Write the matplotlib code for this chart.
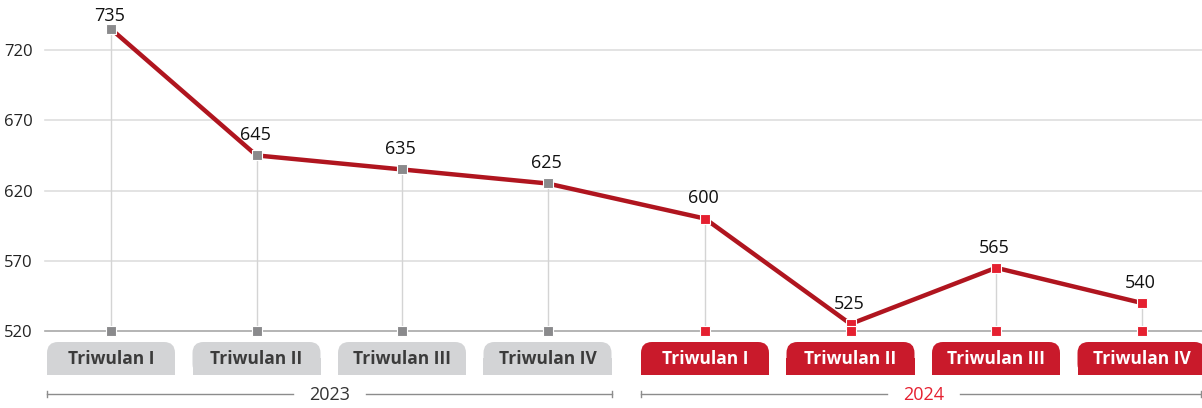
import matplotlib.pyplot as plt
from matplotlib.patches import FancyBboxPatch, Rectangle

# -------------------------
# DATA
# -------------------------
kuartal = ["Triwulan I", "Triwulan II", "Triwulan III", "Triwulan IV",
           "Triwulan I", "Triwulan II", "Triwulan III", "Triwulan IV"]
tahun = ["2023", "2023", "2023", "2023", "2024", "2024", "2024", "2024"]
nilai = [735, 645, 635, 625, 600, 525, 565, 540]
y_ticks = [520, 570, 620, 670, 720]

# -------------------------
# STYLE
# -------------------------
plt.rcParams['font.family'] = ['Open Sans', 'DejaVu Sans']
warna_garis = '#b0151f'
warna_abu = '#8a8a8c'
warna_merah = '#e52030'
box_abu = '#d3d4d6'
box_merah = '#c91a2b'
px_unit = 145.5          # pixel per kategori
jeda = 12 / px_unit      # jarak tambahan antar tahun

fig = plt.figure(figsize=(12.02, 4.08), dpi=100)
ax = fig.add_axes([45 / 1202, 77 / 408, 1157 / 1202, 331 / 408])
lab = fig.add_axes([45 / 1202, 0, 1157 / 1202, 77 / 408], sharex=ax)

daftar_tahun = sorted(set(tahun))
x = [i + jeda * daftar_tahun.index(t) for i, t in enumerate(tahun)]
xmin = -(111 - 45) / px_unit
xmax = xmin + 1157 / px_unit
ax.set_xlim(xmin, xmax)
ax.set_ylim(520, 755.6)

# grid dan sumbu
for t in y_ticks:
    ax.axhline(t, color='#a8a8a8' if t == 520 else '#dedede',
               lw=1.2, zorder=1, clip_on=False)
ax.set_yticks(y_ticks)
ax.tick_params(axis='y', length=0, pad=9, labelsize=12, labelcolor='#222222')
ax.tick_params(axis='x', length=0, labelbottom=False)
for s in ax.spines.values():
    s.set_visible(False)

# garis vertikal tipis
ax.vlines(x, 520, nilai, color='#d4d4d4', lw=1, zorder=2)

# garis utama
ax.plot(x, nilai, color=warna_garis, lw=3.2, zorder=3, solid_capstyle='butt')

for xi, v, th in zip(x, nilai, tahun):
    c = warna_abu if th == "2023" else warna_merah
    ax.plot(xi, v, 's', color=c, ms=6.5, mec='white', mew=0.8, zorder=4)
    ax.plot(xi, 520, 's', color=c, ms=6.5, mec='white', mew=0.8, zorder=4,
            clip_on=False)
    off = 3 if v == max(nilai) else 8   # label teratas dirapatkan
    ax.annotate(str(v), (xi, v), xytext=(-1, off), textcoords='offset points',
                ha='center', va='bottom', fontsize=13, color='#111111')

# -------------------------
# LABEL KATEGORI
# -------------------------
lab.set_ylim(408, 331)
lab.axis('off')
w = 128 / px_unit
r = 11 / px_unit
for xi, k, th in zip(x, kuartal, tahun):
    fc = box_abu if th == "2023" else box_merah
    tc = '#3b3b3b' if th == "2023" else 'white'
    lab.add_patch(FancyBboxPatch((xi - w / 2, 342), w, 33,
                                 boxstyle=f"round,pad=0,rounding_size={r}",
                                 mutation_aspect=px_unit,
                                 fc=fc, ec='none'))
    lab.add_patch(Rectangle((xi - w / 2, 358), w, 17, fc=fc, ec='none'))
    lab.text(xi, 358.5, k, ha='center', va='center', fontsize=12.5,
             fontweight='bold', color=tc)

# kurung tahun
gap = 0.25
for th, col in [("2023", '#333333'), ("2024", warna_merah)]:
    xs = [xi for xi, t in zip(x, tahun) if t == th]
    a = xs[0] - w / 2
    b = min(xs[-1] + 0.44, xmax - 0.005)
    m = (xs[0] + xs[-1]) / 2
    lab.plot([a, m - gap], [394, 394], color='#8c8c8c', lw=1)
    lab.plot([m + gap, b], [394, 394], color='#8c8c8c', lw=1)
    lab.plot([a, a], [391, 397], color='#8c8c8c', lw=1)
    lab.plot([b, b], [391, 397], color='#8c8c8c', lw=1)
    lab.text(m, 394.5, th, ha='center', va='center', fontsize=13, color=col)

fig.savefig('out.png', dpi=100)
